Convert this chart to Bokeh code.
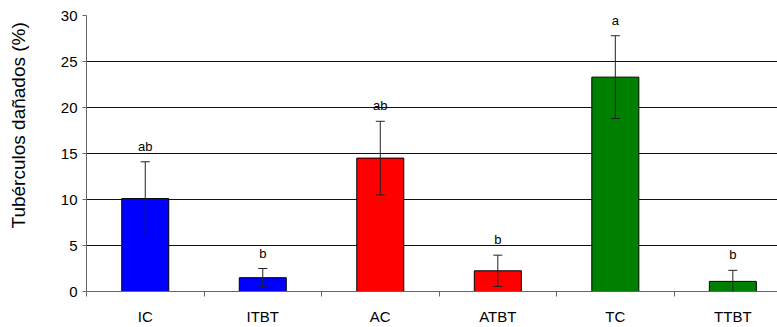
from bokeh.plotting import figure
from bokeh.models import ColumnDataSource, Range1d, FixedTicker, Whisker, TeeHead, LabelSet, Title
from bokeh.core.properties import value
from bokeh.embed import file_html
from bokeh.resources import INLINE

# Damaged tubers per treatment (mean and standard error)
treatments = ["IC", "ITBT", "AC", "ATBT", "TC", "TTBT"]
damage = [10.1, 1.5, 14.5, 2.25, 23.3, 1.1]
errors = [4.0, 1.0, 4.0, 1.7, 4.5, 1.2]
groups = ["ab", "b", "ab", "b", "a", "b"]
colors = ["#0000FF", "#0000FF", "#FF0000", "#FF0000", "#008000", "#008000"]
y_title = "Tubérculos dañados (%)"

FONT = "Liberation Sans"

centers = [i + 0.5 for i in range(len(treatments))]
src = ColumnDataSource(dict(
    x=centers,
    y=damage,
    upper=[v + e for v, e in zip(damage, errors)],
    lower=[v - e for v, e in zip(damage, errors)],
    group=groups,
    color=colors,
))

p = figure(width=777, height=327, output_backend="svg", toolbar_location=None,
           x_range=Range1d(0, 5.88), y_range=Range1d(0, 30),
           min_border_left=86, min_border_right=0, min_border_top=15, min_border_bottom=33)
p.outline_line_color = None
p.background_fill_color = "white"

p.vbar(x="x", top="y", width=0.4, bottom=0, source=src,
       fill_color="color", line_color="black", line_width=1)

whisk = Whisker(base="x", upper="upper", lower="lower", source=src, level="overlay",
                line_color="#222222", line_width=1,
                upper_head=TeeHead(size=9, line_color="#222222"),
                lower_head=TeeHead(size=9, line_color="#222222"))
p.add_layout(whisk)

labels = LabelSet(x="x", y="upper", text="group", source=src, level="overlay",
                  text_align="center", text_baseline="alphabetic", y_offset=11,
                  text_font=value(FONT), text_font_size="13px", text_color="black")
p.add_layout(labels)

# Vertical title on the left, starting a little above the x axis
ytitle = Title(text=y_title, align="left", offset=63, vertical_align="top", standoff=15,
               text_font=FONT, text_font_size="19px", text_font_style="normal",
               text_color="black")
p.add_layout(ytitle, "left")

# Y axis and horizontal grid; a blank, tiny axis label only pads the axis panel
p.yaxis.ticker = FixedTicker(ticks=[0, 5, 10, 15, 20, 25, 30])
p.yaxis.axis_label = " "
p.yaxis.axis_label_text_font_size = "1px"
p.yaxis.axis_label_standoff = 15
p.yaxis.major_label_text_font = FONT
p.yaxis.major_label_text_font_size = "15px"
p.yaxis.major_label_text_color = "black"
p.yaxis.major_label_standoff = 5
p.yaxis.major_tick_out = 4
p.yaxis.major_tick_in = 0
p.yaxis.minor_tick_line_color = None
p.yaxis.axis_line_color = "#666666"
p.yaxis.major_tick_line_color = "#666666"

p.ygrid.grid_line_color = "#111111"
p.ygrid.grid_line_width = 1
p.xgrid.grid_line_color = None

# X axis: labels at bar centres, tick marks at category boundaries
p.xaxis.ticker = FixedTicker(ticks=centers, minor_ticks=list(range(len(treatments) + 1)))
p.xaxis.major_label_overrides = {c: t for c, t in zip(centers, treatments)}
p.xaxis.major_tick_out = 0
p.xaxis.major_tick_in = 0
p.xaxis.minor_tick_out = 5
p.xaxis.minor_tick_in = 0
p.xaxis.minor_tick_line_color = "#666666"
p.xaxis.major_label_text_font = FONT
p.xaxis.major_label_text_font_size = "15px"
p.xaxis.major_label_text_color = "black"
p.xaxis.major_label_standoff = 11
p.xaxis.axis_line_color = "#666666"

open("out.html", "w").write(file_html(p, INLINE))
